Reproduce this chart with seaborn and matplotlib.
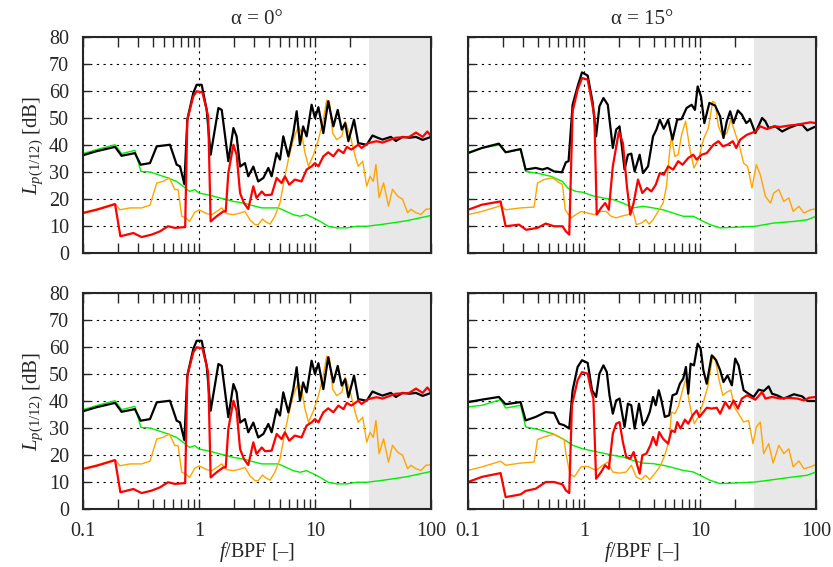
import matplotlib
matplotlib.use("Agg")
import matplotlib.pyplot as plt
import seaborn as sns
import pandas as pd
from matplotlib.ticker import FixedLocator, LogLocator, NullFormatter, FixedFormatter

# ---------------- data (f/BPF, level in dB) ----------------
# alpha = 0 deg (top-left; bottom-left identical)
tl_black_f = [0.1, 0.131, 0.189, 0.215, 0.28, 0.314, 0.378, 0.432, 0.562, 0.642, 0.686, 0.748, 0.793, 0.893, 0.955,
              1.055, 1.165, 1.26, 1.47, 1.57, 1.79, 1.98, 2.11, 2.26, 2.49, 2.66, 2.94, 3.24, 3.59, 3.96, 4.23, 4.67,
              4.99, 5.33, 5.89, 6.5, 6.95, 7.42, 7.9, 8.47, 9.35, 10, 10.7, 11.8, 13, 14.4, 15.7, 17, 18.2, 19.4,
              21.7, 23.6, 27.9, 31.3, 34.6, 38.2, 45, 49.8, 56.9, 65, 74.2, 84.8, 100]
tl_black_v = [36.2, 37.7, 39.3, 36, 37, 32.7, 33.3, 39.5, 40.1, 32.7, 32.1, 25.5, 49.4, 59.3, 62.3, 62.3, 53, 36.4,
              53.7, 53, 34, 46.3, 43.2, 32, 33.3, 28.4, 32, 26.5, 27.8, 31.5, 28.4, 37, 34.6, 43.2, 35.8, 44.4, 52.5,
              40.1, 46.9, 43.2, 54.9, 50, 54, 44.4, 56.2, 46.9, 53, 45.7, 48.1, 41.4, 49.4, 40.7, 40.1, 43.5, 42.7,
              42, 43, 41.5, 43, 42.7, 43, 41.9, 43]
tl_red_f = [0.1, 0.131, 0.189, 0.21, 0.272, 0.32, 0.39, 0.46, 0.54, 0.62, 0.76, 0.793, 0.893, 0.955, 1.07, 1.2, 1.26,
            1.42, 1.62, 1.7, 1.79, 1.98, 2.11, 2.26, 2.44, 2.66, 2.94, 3.13, 3.48, 3.71, 4.23, 4.67, 5.15, 5.5, 6.0,
            6.7, 7.65, 8.47, 9.35, 10, 10.7, 11.8, 13, 14.4, 15.9, 17.6, 18.8, 20.6, 23.6, 25.2, 28.8, 33.9, 38.2,
            49.8, 65, 74.2, 84.8, 93, 100]
tl_red_v = [14.8, 16, 18.1, 6.2, 7.4, 5.9, 6.8, 8, 9.9, 9.3, 9.6, 49.4, 58, 59.9, 59.5, 50.6, 11.7, 13.6, 15.4, 15.4,
            29.6, 40.1, 36.4, 22.2, 18.5, 16.3, 24.7, 20.4, 22.8, 21.4, 21.6, 27.8, 25.9, 28.4, 25.3, 27.2, 26.5,
            30.9, 32.1, 33.3, 32.1, 35.8, 37.3, 35.8, 38.3, 37, 39.3, 38.3, 40.1, 38.9, 40.7, 41.4, 40.9, 42.7, 43,
            44.6, 43, 45, 43.3]
tl_orange_f = [0.1, 0.131, 0.189, 0.208, 0.254, 0.32, 0.378, 0.432, 0.49, 0.555, 0.62, 0.66, 0.71, 0.77, 0.83, 0.92,
               1.0, 1.165, 1.29, 1.42, 1.57, 1.73, 1.98, 2.26, 2.49, 2.75, 3.04, 3.24, 3.53, 3.71, 4.1, 4.5, 4.99, 5.5,
               5.89, 6.5, 7.2, 7.65, 8.2, 8.8, 9.7, 10.7, 11.8, 12.6, 13.3, 14.2, 15.4, 17, 18.2, 20, 22.2, 23.6,
               25.8, 27.9, 29.8, 31.8, 33.5, 35.7, 39, 43, 46.6, 51.5, 56.9, 62.8, 67, 74.2, 82, 90.5, 100]
tl_orange_v = [15, 16.3, 18.3, 16, 16.7, 16.7, 17.7, 25.9, 26.5, 27.8, 23.5, 23.5, 13.6, 13, 11.7, 15.1, 16, 14.6,
               14.2, 15.4, 16.7, 14.6, 14.2, 14.8, 15.4, 12.3, 10.5, 10.5, 12.6, 11.7, 10.7, 13.6, 18.5, 28.4, 34.6,
               42, 46.9, 44.4, 37, 32.1, 36.4, 42, 49.4, 56.5, 56.2, 44.4, 42, 43.2, 48.8, 43.8, 35.8, 32.1, 34, 24.7,
               28.4, 26.5, 32.8, 20.5, 26, 17.4, 23.6, 21.1, 19.9, 14.9, 16.2, 14.9, 14.3, 16.2, 16.4]
tl_green_f = [0.1, 0.131, 0.189, 0.215, 0.28, 0.316, 0.378, 0.46, 0.54, 0.64, 0.73, 0.83, 0.92, 1.0, 1.24, 1.51,
              1.73, 1.98, 2.41, 2.94, 3.48, 4.1, 4.82, 5.65, 6.5, 7.42, 8.47, 9.7, 11.1, 13, 15.4, 18.8, 22.8, 27.9,
              36.4, 44, 61, 100]
tl_green_v = [36.8, 38.3, 40.1, 36.8, 38, 30.2, 30, 28.8, 27.8, 26.5, 24.7, 22.8, 23.5, 22.2, 21.4, 20.4, 19.8,
              19.1, 18.5, 17.5, 16.7, 16.7, 16.7, 15.4, 14.2, 13.6, 14.2, 13, 11.7, 9.9, 9.3, 9.3, 9.9, 9.9, 10.5,
              11, 11.9, 13.9]

# alpha = 15 deg, top-right
tr_black_f = [0.1, 0.132, 0.1845, 0.211, 0.284, 0.314, 0.383, 0.438, 0.484, 0.553, 0.645, 0.698, 0.736, 0.798, 0.881,
              0.961, 1.076, 1.189, 1.271, 1.358, 1.471, 1.604, 1.772, 1.894, 2.025, 2.237, 2.391, 2.556, 2.732, 3.019,
              3.227, 3.565, 3.939, 4.21, 4.501, 4.874, 5.313, 5.794, 6.36, 6.934, 7.663, 8.467, 9.049, 9.546, 10.2,
              10.9, 12.05, 13.49, 14.91, 15.94, 17.03, 18.2, 19.45, 21.21, 22.98, 25.06, 27.13, 30.0, 34.3, 36.6,
              39.1, 44.7, 51.1, 58.3, 68.9, 76.1, 84.1, 92.9, 100]
tr_black_v = [37, 38.9, 40.5, 37.3, 38.5, 30.9, 31.5, 30.9, 31.5, 30.2, 29.9, 33.6, 34, 54.9, 61.7, 66.9, 65.7, 55.6,
              43.2, 54.3, 57.4, 54.9, 38.9, 45.7, 46.9, 30.9, 36.4, 36.8, 30.2, 36.4, 29.6, 32.1, 43.2, 45.7, 49.4,
              46, 49.4, 42, 49.4, 49.6, 53.7, 54.9, 53, 61.7, 58, 48.1, 55.6, 54.6, 50.6, 42.6, 48.8, 52.5, 48.1,
              52.8, 51.2, 48.1, 49.4, 44.4, 50, 48.8, 46.3, 46.9, 45, 46.3, 47.5, 47.5, 45.4, 46.3, 46.9]
tr_red_f = [0.1, 0.132, 0.191, 0.211, 0.275, 0.318, 0.397, 0.468, 0.553, 0.653, 0.698, 0.746, 0.798, 0.881, 0.961,
            1.076, 1.173, 1.229, 1.288, 1.404, 1.521, 1.637, 1.772, 1.998, 2.164, 2.344, 2.505, 2.677, 2.92, 3.184,
            3.495, 3.81, 4.155, 4.501, 4.874, 5.313, 5.872, 6.487, 7.074, 7.923, 8.754, 9.357, 10.34, 11.43, 13.05,
            14.42, 15.72, 17.26, 19.19, 20.52, 22.23, 25.39, 30.0, 33.1, 37.8, 43.2, 49.4, 58.3, 68.9, 81.4, 89.9, 100]
tr_red_v = [16, 17.9, 19.1, 9.9, 10.5, 8.6, 9.3, 10.9, 9.9, 9.9, 8, 6.8, 52.5, 60.5, 64.8, 64.2, 55.6, 50.6, 14.2,
            16.7, 18.5, 16, 32.1, 45, 40.7, 24.7, 14.2, 18.5, 27.2, 22.2, 24.1, 22.8, 25.3, 29.6, 29, 32.1, 30.9, 34,
            32.7, 35.2, 36.4, 34.6, 36.4, 37, 40.1, 41.4, 39.5, 40.1, 41.4, 38.9, 42, 43.8, 45, 46.9, 45.9, 46.9,
            46.7, 47.2, 47.5, 48.1, 48.4, 48.1]
tr_orange_f = [0.1, 0.132, 0.191, 0.211, 0.284, 0.371, 0.397, 0.453, 0.535, 0.591, 0.653, 0.689, 0.772, 0.852, 0.942,
               1.076, 1.229, 1.358, 1.552, 1.714, 1.894, 2.093, 2.391, 2.642, 2.825, 3.121, 3.403, 3.637, 3.939,
               4.353, 4.809, 5.14, 5.421, 5.679, 6.07, 6.487, 6.934, 7.512, 8.191, 8.872, 9.672, 10.69, 11.81, 12.88,
               13.49, 14.42, 15.72, 17.03, 18.45, 20.11, 21.93, 23.76, 25.73, 28.05, 30.6, 33.1, 36.6, 40.5, 43.2,
               47.8, 52.8, 58.3, 63.6, 71.2, 78.7, 89.9, 100]
tr_orange_v = [14.2, 15.4, 17.5, 16, 16.7, 17, 25.9, 27.2, 27.8, 26.5, 25.3, 16, 13, 14.2, 15.4, 14.8, 14.2, 15.4,
               15.4, 13.6, 13, 13.6, 14.2, 15.4, 10.5, 11.1, 12.3, 10.7, 12.3, 15.4, 18.5, 24.7, 35.8, 43.2, 35.8,
               36.4, 43.8, 48.8, 38.3, 31.5, 34.6, 42, 46.3, 56.2, 55.6, 46.9, 43.2, 44.4, 49.4, 44.4, 39.5, 33.3,
               32.1, 24.1, 32.7, 29, 21, 18.5, 22.2, 23.5, 19.1, 20.4, 15.4, 17.3, 14.8, 16, 16.4]
tr_green_f = [0.1, 0.132, 0.191, 0.211, 0.284, 0.314, 0.41, 0.518, 0.653, 0.722, 0.852, 0.974, 1.189, 1.452, 1.772,
              2.164, 2.642, 3.227, 3.939, 4.809, 5.872, 7.17, 8.754, 10.69, 12.21, 14.91, 19.45, 30.0, 43.2, 64.5,
              84.1, 100]
tr_green_v = [37.3, 38.9, 40.1, 37.3, 38.3, 30.2, 29.4, 28.4, 26.5, 24.1, 22.8, 22.5, 21.2, 20.4, 19.8, 18.5, 16.7,
              17.3, 16.7, 16, 14.8, 13.6, 13.6, 11.7, 10.5, 9.3, 9.5, 9.9, 11.1, 11.7, 12.3, 13.6]

# alpha = 15 deg, bottom-right
br_black_f = [0.1, 0.132, 0.1845, 0.211, 0.284, 0.314, 0.383, 0.468, 0.553, 0.611, 0.675, 0.746, 0.798, 0.881, 0.961,
              1.076, 1.173, 1.271, 1.358, 1.471, 1.573, 1.659, 1.772, 1.894, 2.025, 2.135, 2.237, 2.391, 2.556, 2.732,
              2.979, 3.227, 3.449, 3.686, 3.939, 4.155, 4.412, 4.652, 4.972, 5.421, 5.794, 6.276, 6.708, 7.17, 7.562,
              7.923, 8.301, 8.872, 9.546, 10.13, 10.69, 11.43, 12.62, 13.76, 14.91, 15.94, 17.26, 18.82, 20.11, 21.5,
              23.76, 26.24, 29.0, 32.1, 35.4, 39.1, 41.8, 46.2, 52.8, 64.5, 76.1, 84.1, 100]
br_black_v = [39.6, 40.5, 41.5, 38.8, 39.6, 32.8, 34.1, 35.9, 35.6, 31.6, 31, 29.8, 44, 52.6, 55.1, 54.1, 44, 41.5,
              50.1, 53.2, 50.7, 42.1, 35.3, 40.2, 40.9, 35.3, 30.4, 39, 38.4, 29.8, 39, 31, 32.8, 35.9, 41.5, 38.4,
              44, 40.2, 34.1, 34.7, 42.1, 42.7, 46.4, 48.3, 52.6, 42.7, 53.8, 53.2, 61.2, 59.4, 51.4, 46.4, 56.9,
              55.1, 51.4, 47, 49.5, 45.8, 55.7, 53.2, 44, 42.7, 41.5, 44.2, 43.7, 45.4, 42.7, 42.1, 40.9, 42.5, 41.7,
              40, 40]
br_red_f = [0.1, 0.132, 0.191, 0.211, 0.284, 0.314, 0.383, 0.468, 0.553, 0.653, 0.698, 0.746, 0.787, 0.881, 0.961,
            1.076, 1.15, 1.205, 1.271, 1.404, 1.521, 1.637, 1.772, 1.894, 2.025, 2.164, 2.313, 2.505, 2.677, 2.825,
            3.019, 3.184, 3.449, 3.735, 3.939, 4.21, 4.441, 4.809, 5.313, 5.679, 6.07, 6.36, 6.798, 7.413, 7.923,
            8.638, 9.357, 9.867, 10.69, 11.43, 12.62, 13.94, 14.91, 16.48, 17.96, 19.45, 21.21, 22.98, 25.39, 30.0,
            34.3, 36.6, 41.8, 49.4, 56.4, 68.9, 78.7, 87.0, 100]
br_red_v = [10, 11.9, 13.3, 4.4, 5.4, 6.7, 7.5, 10, 10, 9.1, 6.9, 5.9, 38.4, 47.7, 50.7, 50.1, 44, 40.9, 11.2, 13.7,
            16.2, 14.9, 27.9, 31.6, 32.2, 24.8, 19.3, 18.6, 21.1, 17.4, 13.1, 19.9, 20.5, 23.6, 26.7, 23.6, 28.5, 26,
            24.2, 29.1, 28.5, 32.2, 29.8, 33.1, 31.6, 34.7, 36.5, 34.1, 35.9, 37.5, 37.2, 37.5, 35.3, 39.6, 37.2,
            40.2, 37.2, 40.9, 42.1, 40.5, 43.3, 40.9, 41.5, 40.9, 41.2, 40.9, 40.2, 41.2, 41.5]
br_orange_f = [0.1, 0.132, 0.191, 0.211, 0.284, 0.371, 0.397, 0.453, 0.553, 0.611, 0.675, 0.698, 0.756, 0.825, 0.942,
               1.076, 1.271, 1.452, 1.604, 1.772, 2.025, 2.313, 2.556, 2.825, 3.121, 3.403, 3.686, 4.072, 4.501, 4.972,
               5.421, 5.679, 6.07, 6.487, 7.074, 7.562, 8.083, 8.467, 8.931, 9.672, 10.69, 11.66, 12.88, 13.49, 14.42,
               15.72, 17.03, 18.45, 19.71, 21.5, 23.76, 26.24, 28.62, 30.6, 33.1, 35.4, 39.1, 42.7, 47.8, 52.8, 58.3,
               63.6, 71.2, 78.7, 89.9, 100]
br_orange_v = [14.3, 15.6, 17.7, 16.2, 17, 17.4, 25.7, 26.7, 27.7, 26.7, 25.7, 20.5, 13.1, 11.9, 15.6, 15.8, 14.3,
               16.2, 17.4, 13.7, 13.3, 13.7, 16.2, 11.9, 10.9, 12.5, 10.9, 13.1, 15.6, 19.9, 25.4, 35.9, 35.3, 37.8,
               44, 48.3, 39.6, 35.3, 31.6, 34.1, 39.6, 45.2, 56.9, 56, 48.9, 42.1, 43.3, 44, 37.8, 35.3, 32.2, 32.8,
               24.2, 30.4, 32.2, 20.5, 24.2, 17, 23.6, 20.5, 22.3, 15.6, 17.8, 14.9, 15.6, 16.5]
br_green_f = [0.1, 0.132, 0.191, 0.211, 0.284, 0.314, 0.41, 0.535, 0.675, 0.798, 0.974, 1.189, 1.452, 1.772, 2.164,
              2.642, 3.227, 3.939, 4.809, 5.872, 7.17, 8.754, 10.69, 12.21, 14.91, 19.45, 30.0, 43.2, 64.5, 84.1, 100]
br_green_v = [37.8, 38.4, 40.5, 37.4, 38.4, 30.4, 29.4, 27.9, 25.7, 23.6, 22.3, 21.5, 20.7, 19.9, 19.3, 18, 17, 16.8,
              16.2, 15.3, 14.3, 13.7, 11.9, 10.6, 9.4, 9.6, 10, 10.9, 11.9, 12.5, 13.7]

titles = ["α = 0°", "α = 15°"]
x_ticks = [0.1, 1, 10, 100]
x_ticklabels = ["0.1", "1", "10", "100"]
y_ticks = [0, 10, 20, 30, 40, 50, 60, 70, 80]
shade_start = 29

# ---------------- style ----------------
sns.set_style("ticks")
plt.rcParams['font.family'] = ['Liberation Serif', 'DejaVu Serif']
plt.rcParams['mathtext.fontset'] = 'custom'
plt.rcParams['mathtext.rm'] = 'Liberation Serif'
plt.rcParams['mathtext.it'] = 'Liberation Serif:italic'
plt.rcParams['axes.linewidth'] = 1.5

FS = 14.5
W, H = 833, 567
fig = plt.figure(figsize=(W / 100, H / 100), dpi=100)

def rect(l, r, t, b):
    return [l / W, 1 - b / H, (r - l) / W, (b - t) / H]

panels = [
    (rect(83, 431, 37, 253), (tl_black_f, tl_black_v, tl_red_f, tl_red_v, tl_orange_f, tl_orange_v, tl_green_f, tl_green_v), 0, True, False),
    (rect(468, 816, 37, 253), (tr_black_f, tr_black_v, tr_red_f, tr_red_v, tr_orange_f, tr_orange_v, tr_green_f, tr_green_v), 1, False, False),
    (rect(83, 431, 293, 509), (tl_black_f, tl_black_v, tl_red_f, tl_red_v, tl_orange_f, tl_orange_v, tl_green_f, tl_green_v), None, True, True),
    (rect(468, 816, 293, 509), (br_black_f, br_black_v, br_red_f, br_red_v, br_orange_f, br_orange_v, br_green_f, br_green_v), None, False, True),
]

for r, d, ti, left, bottom in panels:
    ax = fig.add_axes(r)
    ax.set_xscale('log')
    ax.set_xlim(0.1, 100)
    ax.set_ylim(0, 80)
    ax.set_axisbelow(True)
    ax.grid(True, which='major', color='black', lw=0.8, ls=(0, (2, 4)))
    ax.axvspan(shade_start, 100, color='#e8e8e8', lw=0, zorder=1)
    bf, bv, rf, rv, of, ov, gf, gv = d
    series = [(gf, gv, '#00ee00', 1.0), (of, ov, '#ffa500', 1.0), (bf, bv, 'black', 1.6), (rf, rv, '#ff0000', 1.6)]
    for xf, yv, c, lw in series:
        df = pd.DataFrame({'f': xf, 'L': yv})
        sns.lineplot(data=df, x='f', y='L', ax=ax, color=c, lw=lw, estimator=None, sort=False, zorder=3)
    ax.set_xlabel('')
    ax.set_ylabel('')
    ax.xaxis.set_major_locator(FixedLocator(x_ticks))
    ax.xaxis.set_minor_locator(LogLocator(base=10, subs=[2, 3, 4, 5, 6, 7, 8, 9], numticks=20))
    ax.xaxis.set_minor_formatter(NullFormatter())
    ax.yaxis.set_major_locator(FixedLocator(y_ticks))
    ax.tick_params(axis='x', which='both', direction='in', top=True, bottom=True, width=1, labelsize=FS, pad=9)
    ax.tick_params(axis='x', which='major', length=7)
    ax.tick_params(axis='x', which='minor', length=7)
    ax.tick_params(axis='y', which='major', direction='in', left=True, right=False, length=5, width=1,
                   labelsize=FS, pad=10)
    if bottom:
        ax.xaxis.set_major_formatter(FixedFormatter(x_ticklabels))
        ax.set_xlabel(r'$f$/BPF [–]', fontsize=FS, labelpad=0)
    else:
        ax.xaxis.set_major_formatter(NullFormatter())
    if left:
        ax.set_ylabel(r'$L_{p(1/12)}$ [dB]', fontsize=15, labelpad=3)
    else:
        ax.yaxis.set_major_formatter(NullFormatter())
    if ti is not None:
        ax.set_title(titles[ti], fontsize=15, pad=9)
    for s in ax.spines.values():
        s.set_linewidth(1.5)
        s.set_zorder(5)

fig.savefig('out.png', dpi=100)
